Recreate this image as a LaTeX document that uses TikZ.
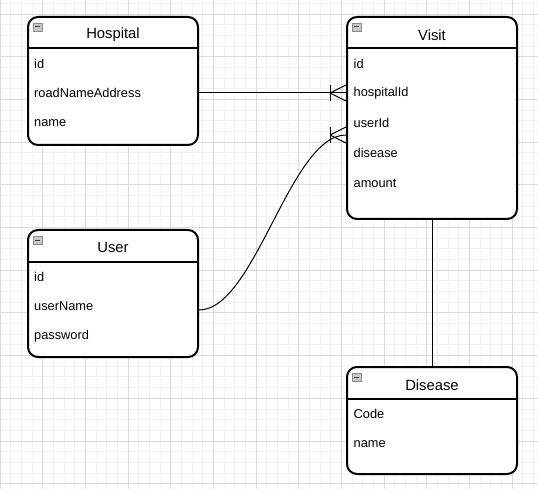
\documentclass[tikz,border=0pt]{standalone}
\usepackage{fontspec}
\setmainfont{Liberation Sans}
\usetikzlibrary{calc}
\definecolor{gridminor}{HTML}{F1F1F1}
\definecolor{gridmajor}{HTML}{DADADA}
\definecolor{iconfill}{HTML}{C8C8C8}
\definecolor{iconline}{HTML}{8C8C8C}
\tikzset{
  entity/.style={draw=black, line width=2pt, rounded corners=10pt, fill=white,
    inner sep=0pt, minimum width=170pt},
  rowtext/.style={anchor=west, inner sep=0pt, font=\fontsize{12.8}{15}\selectfont},
  headtext/.style={inner sep=0pt, font=\fontsize{14.8}{17}\selectfont},
  sep/.style={line width=2pt},
  conn/.style={line width=1pt, black},
}
\newcommand{\collapseicon}[2]{%
  \draw[draw=iconline, fill=iconfill, line width=0.8pt] (#1,#2) rectangle ++(9,8);
  \draw[black!75, line width=1pt] ($(#1,#2)+(2,4)$) -- ++(5,0);
}
\begin{document}
\begin{tikzpicture}[x=1pt,y=-1pt]
\useasboundingbox (0,0) rectangle (538,489);
\fill[white] (0,0) rectangle (538,489);
% grid
\foreach \i in {0,...,50} {
  \draw[gridminor, line width=1pt] ({\i*10.6667},0) -- ({\i*10.6667},489);
}
\foreach \j in {-1,...,46} {
  \draw[gridminor, line width=1pt] (0,{14.33+\j*10.6667}) -- (538,{14.33+\j*10.6667});
}
\foreach \i in {0,4,...,48} {
  \draw[gridmajor, line width=1pt] ({\i*10.6667},0) -- ({\i*10.6667},489);
}
\foreach \j in {0,4,...,44} {
  \draw[gridmajor, line width=1pt] (0,{14.33+\j*10.6667}) -- (538,{14.33+\j*10.6667});
}

% Hospital
\node[entity, minimum height=128pt] (hosp) at (113,81) {};
\draw[sep] (hosp.west |- 0,48.5) -- (hosp.east |- 0,48.5);
\collapseicon{33}{23}
\node[headtext] (hosph) at (113,35) {Hospital};
\node[rowtext] (hid) at (34,63.5) {id};
\node[rowtext] (hroad) at (34,93) {roadNameAddress};
\node[rowtext] (hname) at (34,123) {name};

% Visit
\node[entity, minimum height=202pt] (visit) at (432,118) {};
\draw[sep] (visit.west |- 0,48.5) -- (visit.east |- 0,48.5);
\collapseicon{352}{23}
\node[headtext] (visith) at (432,35) {Visit};
\node[rowtext] (vid) at (353.5,63.5) {id};
\node[rowtext] (vhosp) at (353.5,93) {hospitalId};
\node[rowtext] (vuser) at (353.5,123) {userId};
\node[rowtext] (vdis) at (353.5,153) {disease};
\node[rowtext] (vamount) at (353.5,183) {amount};

% User
\node[entity, minimum height=127pt] (user) at (113,293.5) {};
\draw[sep] (user.west |- 0,261.5) -- (user.east |- 0,261.5);
\collapseicon{33}{236}
\node[headtext] (userh) at (113,247) {User};
\node[rowtext] (uid) at (34,276.5) {id};
\node[rowtext] (uname) at (34,306.5) {userName};
\node[rowtext] (upass) at (34,336) {password};

% Disease
\node[entity, minimum height=107pt] (dis) at (432,420.5) {};
\draw[sep] (dis.west |- 0,399) -- (dis.east |- 0,399);
\collapseicon{352}{373}
\node[headtext] (dish) at (432,385) {Disease};
\node[rowtext] (dcode) at (353.5,414) {Code};
\node[rowtext] (dname) at (353.5,444) {name};

% Hospital -> Visit (one to many)
\coordinate (e1) at (visit.west |- vhosp);
\draw[conn] (hosp.east |- hroad) -- (e1);
\draw[conn] ([xshift=-16pt]e1) -- ([yshift=8pt]e1);
\draw[conn] ([xshift=-16pt]e1) -- ([yshift=-8pt]e1);
\draw[conn] ([xshift=-16pt,yshift=8pt]e1) -- ([xshift=-16pt,yshift=-8pt]e1);

% User -> Visit (one to many, curved)
\coordinate (s2) at (user.east |- 0,310);
\coordinate (e2) at (visit.west |- 0,135);
\draw[conn] (s2) .. controls (255,310) and (290,135) .. (e2);
\draw[conn] ([xshift=-16pt]e2) -- ([yshift=8pt]e2);
\draw[conn] ([xshift=-16pt]e2) -- ([yshift=-8pt]e2);
\draw[conn] ([xshift=-16pt,yshift=8pt]e2) -- ([xshift=-16pt,yshift=-8pt]e2);

% Visit -- Disease
\draw[conn] (visit.south) -- (dis.north);
\end{tikzpicture}
\end{document}
